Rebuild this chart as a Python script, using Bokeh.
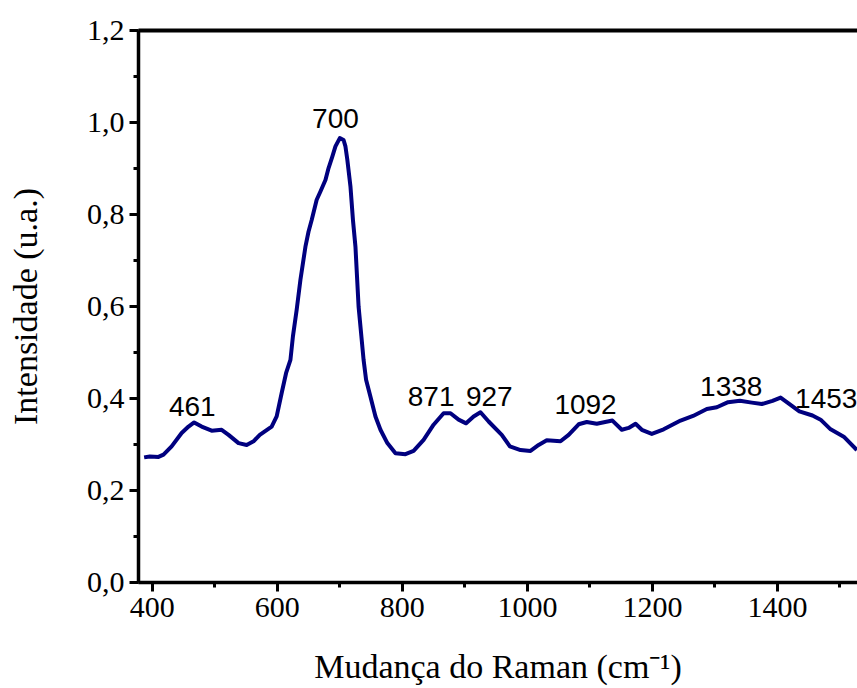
from bokeh.plotting import figure
from bokeh.models import (Range1d, SingleIntervalTicker, LinearAxis, FixedTicker,
                          CustomJSTickFormatter)
from bokeh.core.properties import value
from bokeh.embed import file_html
from bokeh.resources import INLINE

# Raman spectrum
shift = [387, 396, 410, 418, 431, 447, 458, 467, 479, 495, 511, 522, 538, 551, 562,
         572, 591, 599, 607, 614, 621, 625, 631, 637, 645, 650, 655, 663, 669, 677,
         682, 688, 693, 700, 706, 709, 712, 717, 721, 725, 727.5, 730, 734, 738, 742,
         749, 757, 765, 776, 789, 805, 818, 834, 850, 866,
         877, 890, 902, 914, 925, 938, 959, 972, 989, 1005, 1018, 1031, 1053, 1066,
         1082, 1095, 1111, 1136, 1151, 1162, 1173, 1183, 1199, 1218, 1245, 1265,
         1287, 1303, 1321, 1340, 1359, 1375, 1392, 1405, 1416, 1435, 1456, 1469,
         1485, 1506, 1527]
intensity = [0.272, 0.274, 0.273, 0.278, 0.296, 0.325, 0.339, 0.348, 0.339, 0.330,
             0.332, 0.321, 0.303, 0.299, 0.307, 0.321, 0.339, 0.361, 0.412, 0.455,
             0.484, 0.535, 0.593, 0.658, 0.730, 0.763, 0.788, 0.832, 0.850, 0.875,
             0.901, 0.926, 0.948, 0.966, 0.962, 0.948, 0.919, 0.861, 0.788, 0.730,
             0.665, 0.600, 0.542, 0.484, 0.441, 0.404, 0.361, 0.332, 0.303, 0.281,
             0.279, 0.286, 0.310, 0.343, 0.368, 0.368, 0.354, 0.346, 0.361, 0.370,
             0.350, 0.321, 0.296, 0.288, 0.286, 0.299, 0.309, 0.307, 0.321, 0.344,
             0.349, 0.345, 0.352, 0.332, 0.336, 0.345, 0.332, 0.323, 0.333, 0.352,
             0.362, 0.377, 0.381, 0.392, 0.395, 0.391, 0.388, 0.395, 0.402, 0.391,
             0.372, 0.363, 0.354, 0.333, 0.317, 0.288]

# Peak annotations
peak_labels = ["461", "700", "871", "927", "1092", "1338", "1453"]
peak_x = [464, 693, 846, 939, 1093, 1326, 1478]
peak_y = [0.362, 0.988, 0.384, 0.384, 0.367, 0.406, 0.380]

p = figure(width=857, height=688, output_backend="svg", toolbar_location=None,
           x_range=Range1d(378, 1528), y_range=Range1d(0, 1.2000001),
           min_border_left=138, min_border_right=0, min_border_top=30,
           min_border_bottom=106)
p.outline_line_color = None
p.xgrid.visible = False
p.ygrid.visible = False
p.background_fill_color = "white"
p.border_fill_color = "white"

p.line(shift, intensity, line_color="#00007f", line_width=4, line_join="round")

p.text(x=peak_x, y=peak_y, text=peak_labels, text_font=value("Liberation Sans"),
       text_font_size="28px", text_align="center", text_baseline="bottom",
       text_color="black")

serif = "Liberation Serif"
for ax in (p.xaxis[0], p.yaxis[0]):
    ax.axis_line_width = 3.5
    ax.axis_line_color = "black"
    ax.major_tick_line_width = 3
    ax.minor_tick_line_width = 3
    ax.major_tick_out = 9
    ax.major_tick_in = 0
    ax.minor_tick_out = 5
    ax.minor_tick_in = 0
    ax.major_label_text_font = serif
    ax.major_label_text_font_size = "30px"
    ax.major_label_text_color = "black"
    ax.axis_label_text_font = serif
    ax.axis_label_text_font_style = "normal"
    ax.axis_label_text_font_size = "34px"
    ax.axis_label_text_color = "black"

p.xaxis[0].ticker = SingleIntervalTicker(interval=200, num_minor_ticks=2)
p.yaxis[0].ticker = SingleIntervalTicker(interval=0.2, num_minor_ticks=2)
p.yaxis[0].formatter = CustomJSTickFormatter(
    code="return tick.toFixed(1).replace('.', ',');")
p.xaxis[0].major_label_standoff = 6
p.yaxis[0].major_label_standoff = 5
p.xaxis[0].axis_label = "Mudança do Raman (cm⁻¹)"
p.yaxis[0].axis_label = "Intensidade (u.a.)"
p.xaxis[0].axis_label_standoff = 28
p.yaxis[0].axis_label_standoff = 40

top = LinearAxis(ticker=FixedTicker(ticks=[]), axis_line_width=4,
                 axis_line_color="black", major_tick_out=0, minor_tick_out=0,
                 major_label_text_font_size="0px")
p.add_layout(top, "above")

open("out.html", "w").write(file_html(p, INLINE))
